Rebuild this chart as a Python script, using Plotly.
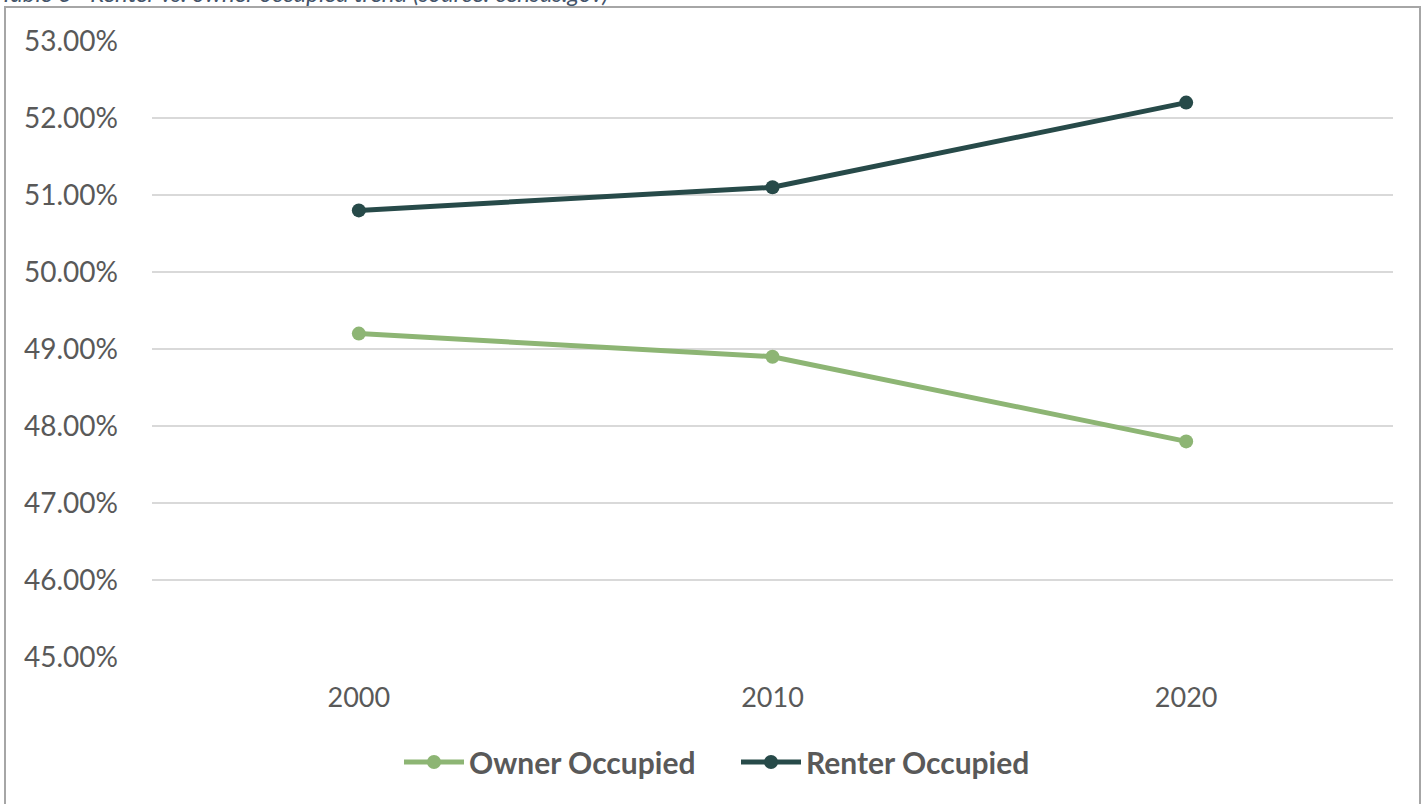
import plotly.graph_objects as go

years = ["2000", "2010", "2020"]
owner_occupied = [49.2, 48.9, 47.8]
renter_occupied = [50.8, 51.1, 52.2]
y_ticks = [45, 46, 47, 48, 49, 50, 51, 52, 53]
y_tick_labels = [f"{v:.2f}%" for v in y_ticks]
title_text = "Table 6 - Renter vs. owner occupied trend (source: census.gov)"

OWNER = "#8DB574"
RENTER = "#274A49"
FONT = "Source Sans Pro, Lato, sans-serif"

fig = go.Figure()
fig.add_trace(go.Scatter(
    x=years, y=owner_occupied, name="Owner Occupied", mode="lines+markers",
    line=dict(color=OWNER, width=5), marker=dict(color=OWNER, size=14)))
fig.add_trace(go.Scatter(
    x=years, y=renter_occupied, name="Renter Occupied", mode="lines+markers",
    line=dict(color=RENTER, width=5), marker=dict(color=RENTER, size=14)))

fig.update_layout(
    width=1426, height=804,
    margin=dict(l=152, r=33, t=41, b=147, autoexpand=False),
    paper_bgcolor="white", plot_bgcolor="white",
    font=dict(family=FONT, color="#595959"),
    showlegend=True,
    legend=dict(orientation="h", xref="container", x=736 / 1426, xanchor="center",
                yref="container", y=(804 - 762) / 804, yanchor="middle",
                font=dict(size=30, color="#595959", family=FONT, weight="bold"),
                itemwidth=60, entrywidth=262, entrywidthmode="pixels", tracegroupgap=0),
    xaxis=dict(type="category", range=[-0.5, 2.5], showgrid=False, zeroline=False, showline=False,
               ticks="", tickfont=dict(size=27, color="#595959"), ticklabelstandoff=22),
    yaxis=dict(range=[45, 53], tickvals=y_ticks, ticktext=y_tick_labels,
               showgrid=True, gridcolor="#D9D9D9", gridwidth=1.5, zeroline=False,
               showline=False, ticks="", tickfont=dict(size=28, color="#595959"),
               ticklabelstandoff=33),
    shapes=[dict(type="rect", xref="paper", yref="paper",
                 x0=(5 - 152) / 1241, x1=(1420 - 152) / 1241,
                 y0=(657 - 820) / 616, y1=(657 - 7) / 616,
                 line=dict(color="#A6A6A6", width=2), fillcolor="rgba(0,0,0,0)", layer="below")],
    annotations=[dict(text=title_text, xref="paper", yref="paper",
                      x=(-2 - 152) / 1241, xanchor="left",
                      y=(657 + 7) / 616, yanchor="middle", showarrow=False,
                      font=dict(size=24, color="#44546A", family=FONT, style="italic"))],
)

fig.write_html("out.html", config={"displayModeBar": False},
               post_script="document.body.style.margin='0';document.body.style.overflow='hidden';")
